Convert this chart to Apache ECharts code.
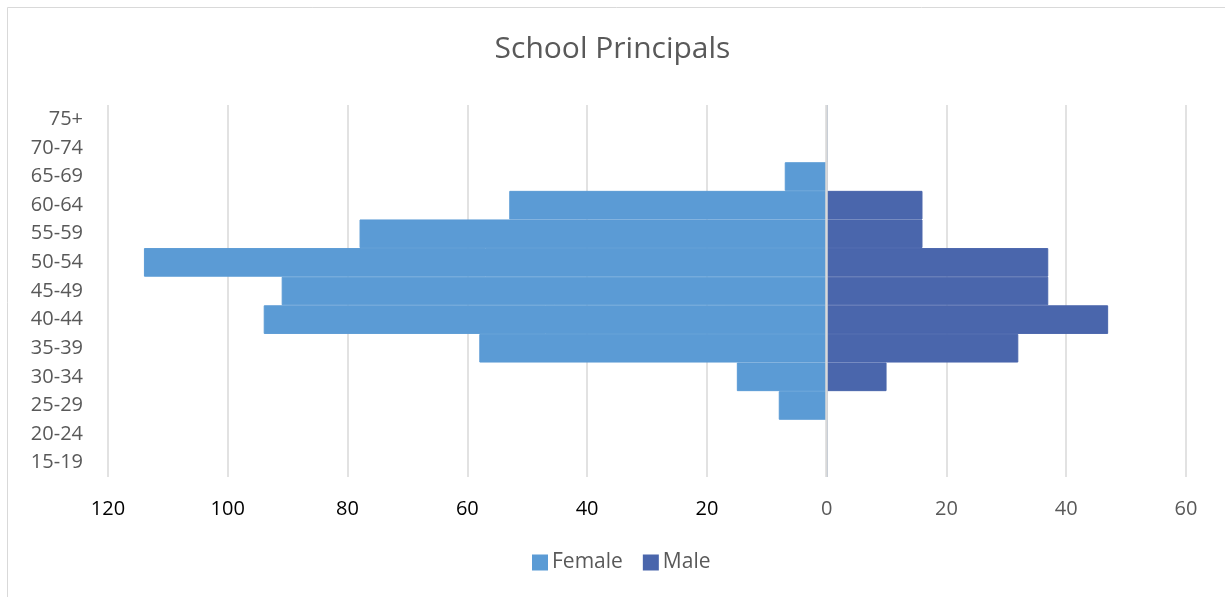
<!DOCTYPE html>
<html>
<head>
<meta charset="utf-8">
<title>School Principals</title>
<script src="https://cdn.jsdelivr.net/npm/echarts@6/dist/echarts.min.js"></script>
<style>
  html, body { margin: 0; padding: 0; background: #fff; }
  #chart { width: 1225px; height: 597px; }
</style>
</head>
<body>
<div id="chart"></div>
<script>
// Age bands, bottom to top
const ageGroups = ['15-19', '20-24', '25-29', '30-34', '35-39', '40-44', '45-49',
                   '50-54', '55-59', '60-64', '65-69', '70-74', '75+'];
// Headcount per age band
const female = [0, 0, 8, 15, 58, 94, 91, 114, 78, 53, 7, 0, 0];
const male   = [0, 0, 0, 10, 32, 47, 37, 37, 16, 16, 0, 0, 0];
// Value axis range and step
const axisMin = -120;
const axisMax = 60;
const axisStep = 20;

const FONT = '"Open Sans", "Noto Sans", sans-serif';
const FEMALE_COLOR = '#5b9bd5';
const MALE_COLOR = '#4a66ac';
const chart = echarts.init(document.getElementById('chart'), null, { renderer: 'canvas' });

chart.setOption({
  animation: false,
  backgroundColor: '#ffffff',
  graphic: [{
    type: 'rect',
    shape: { x: 7.5, y: 7.5, width: 1240, height: 620 },
    style: { fill: 'none', stroke: '#d9d9d9', lineWidth: 1 },
    silent: true
  }],
  title: {
    text: 'School Principals',
    left: 'center',
    top: 29,
    textStyle: { fontFamily: FONT, fontSize: 30, fontWeight: 'normal', color: '#595959' }
  },
  legend: {
    bottom: 19,
    left: 527,
    itemWidth: 14,
    itemHeight: 14,
    itemGap: 20,
    icon: 'rect',
    textStyle: { fontFamily: FONT, fontSize: 21, color: '#595959' },
    data: ['Female', 'Male']
  },
  grid: { left: 108, right: 39, top: 105, bottom: 120, containLabel: false },
  xAxis: {
    type: 'value',
    min: axisMin,
    max: axisMax,
    interval: axisStep,
    axisLine: { show: false },
    axisTick: { show: false },
    splitLine: { lineStyle: { color: '#d9d9d9', width: 1.5 } },
    axisLabel: {
      margin: 22,
      fontFamily: FONT,
      fontSize: 20,
      formatter: v => (v < 0 ? '{neg|' + Math.abs(v) + '}' : '{pos|' + v + '}'),
      rich: {
        neg: { fontFamily: FONT, fontSize: 20, color: '#000000' },
        pos: { fontFamily: FONT, fontSize: 20, color: '#595959' }
      }
    }
  },
  yAxis: {
    type: 'category',
    data: ageGroups,
    axisLine: { show: false },
    axisTick: { show: false },
    axisLabel: { margin: 25, fontFamily: FONT, fontSize: 20, color: '#595959' }
  },
  series: [
    {
      name: 'Female',
      type: 'bar',
      data: female.map(v => -v),
      barCategoryGap: 0,
      barGap: '-100%',
      itemStyle: { color: FEMALE_COLOR, borderColor: FEMALE_COLOR, borderWidth: 1 }
    },
    {
      name: 'Male',
      type: 'bar',
      data: male,
      barCategoryGap: 0,
      barGap: '-100%',
      itemStyle: { color: MALE_COLOR, borderColor: MALE_COLOR, borderWidth: 1 }
    },
    {
      // vertical axis line at zero, drawn above the bars
      name: 'axis',
      type: 'line',
      data: [],
      z: 10,
      silent: true,
      markLine: {
        silent: true,
        symbol: 'none',
        label: { show: false },
        lineStyle: { color: '#d9d9d9', width: 2.5, type: 'solid' },
        data: [{ xAxis: 0 }]
      }
    }
  ]
});
</script>
</body>
</html>
